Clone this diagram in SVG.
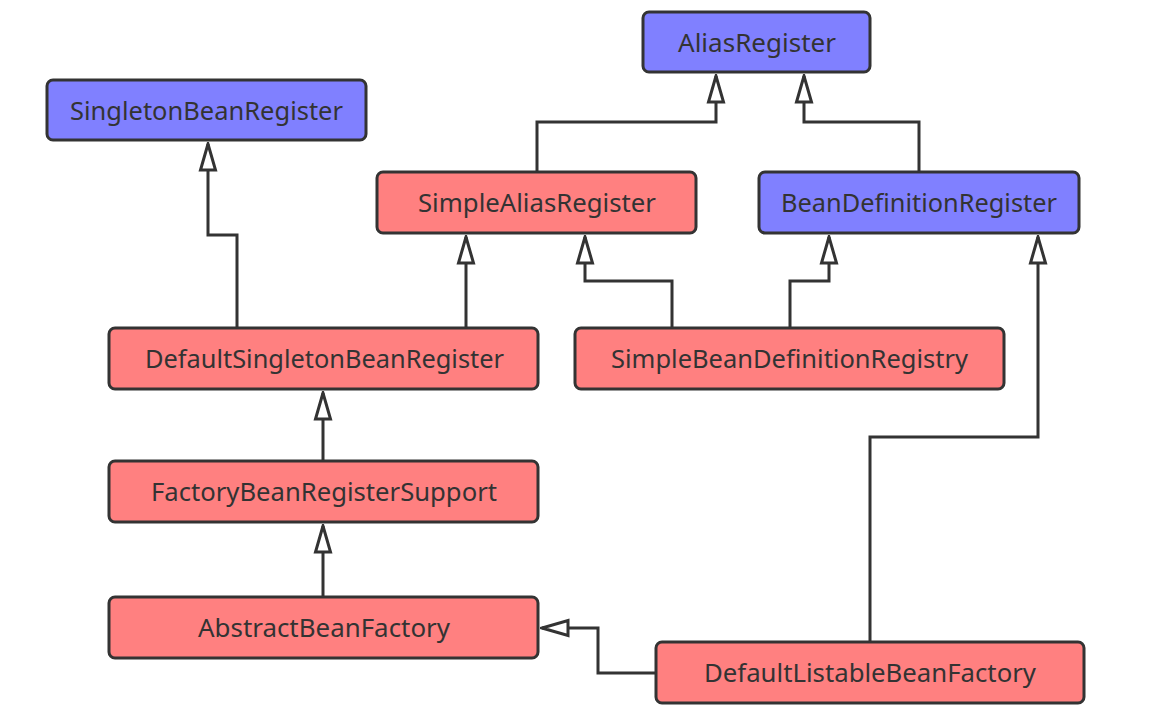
<svg xmlns="http://www.w3.org/2000/svg" width="1160" height="722" viewBox="0 0 1160 722">
<style>
.box{stroke:#333;stroke-width:3}
.blue{fill:#8080ff}
.red{fill:#ff8080}
.lbl{font-family:"Noto Sans","Open Sans",sans-serif;font-size:25.5px;fill:#333;text-anchor:middle;dominant-baseline:central}
.edge{fill:none;stroke:#333;stroke-width:3;marker-end:url(#tri)}
</style>
<defs>
<marker id="tri" markerUnits="userSpaceOnUse" viewBox="-30 -11 32 22" markerWidth="32" markerHeight="22" refX="0" refY="0" orient="auto">
<path d="M0,0 L-26,-7.5 L-26,7.5 Z" fill="#fff" stroke="#333" stroke-width="3" stroke-linejoin="miter"/>
</marker>
</defs>
<rect width="1160" height="722" fill="#fff"/>
<g id="connectors">
<path class="edge" d="M237,328 V235 H208 V144"/>
<path class="edge" d="M466,328 V237"/>
<path class="edge" d="M537,172 V122 H716 V76"/>
<path class="edge" d="M919,172 V122 H804 V76"/>
<path class="edge" d="M672,328 V281 H585 V237"/>
<path class="edge" d="M790,328 V281 H829 V237"/>
<path class="edge" d="M323,461 V393"/>
<path class="edge" d="M323,597 V526"/>
<path class="edge" d="M656,673 H598 V628 H542"/>
<path class="edge" d="M870,642 V437 H1038 V237"/>
</g>
<g id="AliasRegister"><rect class="box blue" x="643" y="12" width="227" height="60" rx="6"/><text class="lbl" x="757" y="42" textLength="158" lengthAdjust="spacingAndGlyphs">AliasRegister</text></g>
<g id="SingletonBeanRegister"><rect class="box blue" x="47" y="80" width="319" height="60" rx="6"/><text class="lbl" x="206.5" y="110" textLength="273" lengthAdjust="spacingAndGlyphs">SingletonBeanRegister</text></g>
<g id="SimpleAliasRegister"><rect class="box red" x="377" y="172" width="319" height="61" rx="6"/><text class="lbl" x="537" y="202" textLength="238" lengthAdjust="spacingAndGlyphs">SimpleAliasRegister</text></g>
<g id="BeanDefinitionRegister"><rect class="box blue" x="759" y="172" width="320" height="61" rx="6"/><text class="lbl" x="919" y="202" textLength="276" lengthAdjust="spacingAndGlyphs">BeanDefinitionRegister</text></g>
<g id="DefaultSingletonBeanRegister"><rect class="box red" x="109" y="328" width="429" height="61" rx="6"/><text class="lbl" x="324.5" y="358" textLength="359" lengthAdjust="spacingAndGlyphs">DefaultSingletonBeanRegister</text></g>
<g id="SimpleBeanDefinitionRegistry"><rect class="box red" x="575" y="328" width="429" height="61" rx="6"/><text class="lbl" x="789.5" y="358" textLength="357" lengthAdjust="spacingAndGlyphs">SimpleBeanDefinitionRegistry</text></g>
<g id="FactoryBeanRegisterSupport"><rect class="box red" x="109" y="461" width="429" height="61" rx="6"/><text class="lbl" x="324" y="491" textLength="346" lengthAdjust="spacingAndGlyphs">FactoryBeanRegisterSupport</text></g>
<g id="AbstractBeanFactory"><rect class="box red" x="109" y="597" width="429" height="61" rx="6"/><text class="lbl" x="324" y="627" textLength="252" lengthAdjust="spacingAndGlyphs">AbstractBeanFactory</text></g>
<g id="DefaultListableBeanFactory"><rect class="box red" x="656" y="642" width="428" height="61" rx="6"/><text class="lbl" x="870" y="672" textLength="332" lengthAdjust="spacingAndGlyphs">DefaultListableBeanFactory</text></g>
</svg>
